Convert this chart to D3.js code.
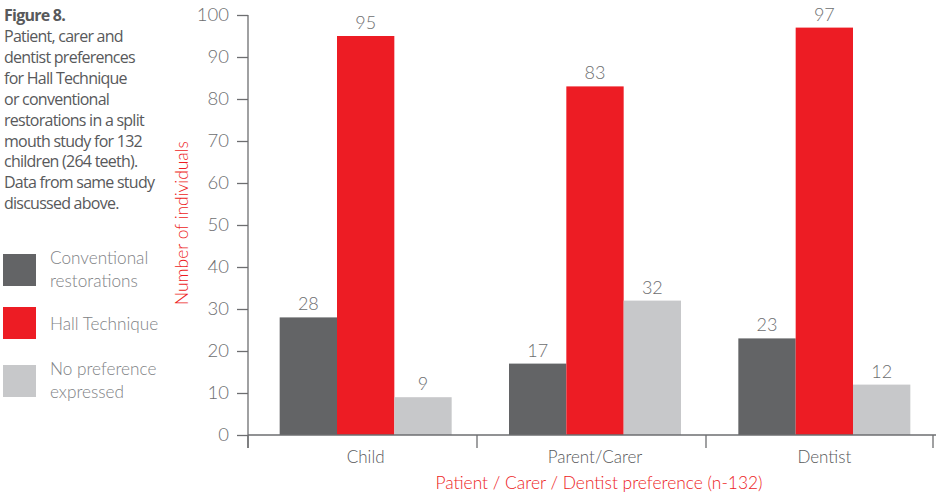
<!DOCTYPE html>
<html lang="en">
<head>
<meta charset="utf-8">
<title>Figure 8</title>
<style>
  body {margin: 0; background: #fff;}
  svg  {display: block;}
  .tick text {font-family: Lato, sans-serif; font-weight: 300; font-size: 18.5px; fill: #6d6e70;}
  .cap   {font-family: "Open Sans", sans-serif; font-size: 16px; fill: #58595b; letter-spacing: -0.75px;}
  .leg   {font-family: Lato, sans-serif; font-weight: 300; font-size: 17.2px; fill: #808285;}
  .red   {font-family: Lato, sans-serif; font-weight: 300; font-size: 17.4px; fill: #ed1c24;}
  .val   {font-family: Lato, sans-serif; font-weight: 300; font-size: 18px; fill: #6d6e70;}
  .cat   {font-family: Lato, sans-serif; font-weight: 300; font-size: 17px; fill: #58595b;}
</style>
</head>
<body>
<svg id="chart" width="936" height="494"></svg>

<script src="https://d3js.org/d3.v7.min.js"></script>
<script>
const categories = ["Child", "Parent/Carer", "Dentist"];
const seriesNames = ["Conventional restorations", "Hall Technique", "No preference expressed"];
const conventional = [28, 17, 23];
const hall = [95, 83, 97];
const noPref = [9, 32, 12];
const yTicks = [0, 10, 20, 30, 40, 50, 60, 70, 80, 90, 100];
const colors = ["#636466", "#ed1c24", "#c7c8ca"];

const caption = ["Patient, carer and", "dentist preferences", "for Hall Technique",
  "or conventional", "restorations in a split", "mouth study for 132",
  "children (264 teeth).", "Data from same study", "discussed above."];

const svg = d3.select("#chart");
const x0 = 248, x1 = 935, yTop = 15, yBot = 435;

const x = d3.scaleBand().domain(categories).range([x0, x1]);
// bars sit a little right of the band separators in the original
const xb = d3.scaleBand().domain(categories).range([x0 + 3, x1 + 4]);
const xs = d3.scaleBand().domain(d3.range(3)).range([0, xb.bandwidth()]).paddingOuter(0.5);
const y = d3.scaleLinear().domain([0, 100]).range([yBot, yTop]);

const series = [conventional, hall, noPref];
const rows = [];
categories.forEach((c, i) => series.forEach((s, j) => rows.push({c, j, v: s[i]})));

// bars
svg.append("g").selectAll("rect").data(rows).join("rect")
  .attr("x", d => xb(d.c) + xs(d.j))
  .attr("width", xs.bandwidth())
  .attr("y", d => y(d.v))
  .attr("height", d => y(0) - y(d.v))
  .attr("fill", d => colors[d.j]);

svg.append("g").selectAll("text").data(rows).join("text")
  .attr("class", "val")
  .attr("x", d => xb(d.c) + xs(d.j) + xs.bandwidth() / 2)
  .attr("y", d => y(d.v) - 7)
  .attr("text-anchor", "middle")
  .text(d => d.v);

// y axis
const yAxis = svg.append("g").attr("transform", `translate(${x0},0)`)
  .call(d3.axisLeft(y).tickValues(yTicks).tickSize(11).tickPadding(8));
yAxis.select(".domain").remove();
yAxis.selectAll("line").attr("stroke", "#6d6e70").attr("stroke-width", 1.3);
svg.append("line").attr("x1", x0).attr("x2", x0).attr("y1", yTop).attr("y2", 448)
  .attr("stroke", "#6d6e70").attr("stroke-width", 1.3);

// x axis
svg.append("line").attr("x1", x0).attr("x2", 936).attr("y1", yBot).attr("y2", yBot)
  .attr("stroke", "#6d6e70").attr("stroke-width", 1.3);
svg.append("g").selectAll("line").data([...categories.map(c => x(c)), x1 - 2]).join("line")
  .attr("x1", d => d).attr("x2", d => d).attr("y1", yBot).attr("y2", 448)
  .attr("stroke", "#6d6e70").attr("stroke-width", 1.3);
svg.append("g").selectAll("text").data(categories).join("text")
  .attr("class", "cat")
  .attr("x", d => xb(d) + xb.bandwidth() / 2)
  .attr("y", 463)
  .attr("text-anchor", "middle")
  .text(d => d);

// axis titles
svg.append("text").attr("class", "red")
  .attr("x", 599).attr("y", 489).attr("text-anchor", "middle")
  .text("Patient / Carer / Dentist preference (n-132)");
svg.append("text").attr("class", "red")
  .attr("transform", "translate(188,223) rotate(-90)").attr("text-anchor", "middle")
  .text("Number of individuals");

// caption
const cap = svg.append("text").attr("class", "cap");
cap.append("tspan").attr("x", 4).attr("y", 21).attr("font-weight", "bold").text("Figure 8.");
caption.forEach((t, i) => cap.append("tspan").attr("x", 4).attr("y", 42 + i * 20.9).text(t));

// legend
const legY = [254, 307, 365];
const legLines = [["Conventional", "restorations"], ["Hall Technique"], ["No preference", "expressed"]];
const lg = svg.append("g");
seriesNames.forEach((n, i) => {
  lg.append("rect").attr("x", 3).attr("y", legY[i]).attr("width", 33).attr("height", 32).attr("fill", colors[i]);
  const t = lg.append("text").attr("class", "leg");
  const lines = legLines[i];
  const start = lines.length === 1 ? legY[i] + 23 : legY[i] + 10;
  lines.forEach((l, k) => t.append("tspan").attr("x", 50).attr("y", start + k * 23).text(l));
});
</script>
</body>
</html>
